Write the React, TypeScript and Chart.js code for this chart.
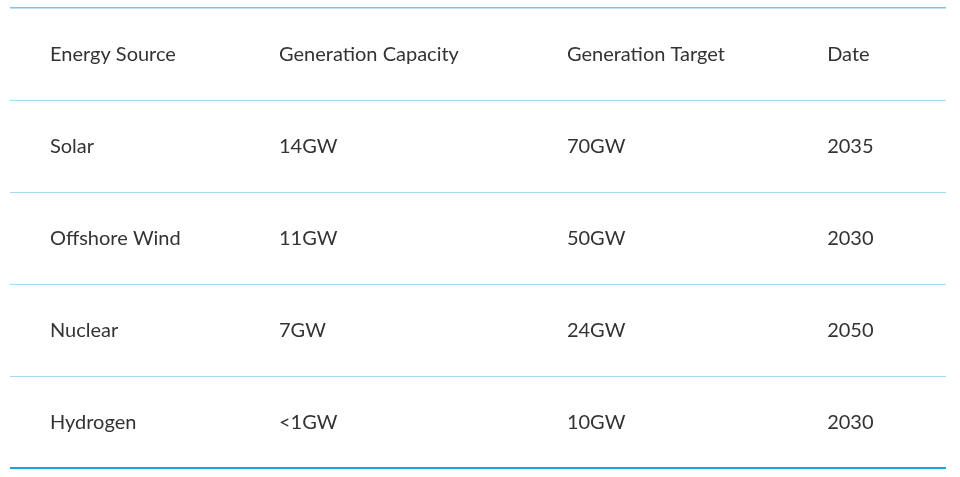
import React, { useEffect, useRef } from "react";
import { Chart, registerables } from "chart.js";

Chart.register(...registerables);

const headers = ["Energy Source", "Generation Capacity", "Generation Target", "Date"];
const sources = ["Solar", "Offshore Wind", "Nuclear", "Hydrogen"];
const capacities = ["14GW", "11GW", "7GW", "<1GW"];
const targets = ["70GW", "50GW", "24GW", "10GW"];
const dates = ["2035", "2030", "2050", "2030"];

// layout (percent of table width where each column's text starts)
const COL_START = [4.27, 28.74, 59.5, 87.3];

export default function App() {
  const ref = useRef<HTMLCanvasElement | null>(null);

  useEffect(() => {
    if (!ref.current) return;
    const rows = [headers, ...sources.map((s, i) => [s, capacities[i], targets[i], dates[i]])];
    const nRows = rows.length;

    const textPlugin = {
      id: "tableText",
      afterDraw(chart: any) {
        const { ctx, scales } = chart;
        const xs = scales.x;
        const ys = scales.y;
        ctx.save();
        ctx.font = "20px Lato";
        ctx.fillStyle = "#333333";
        ctx.textAlign = "left";
        ctx.textBaseline = "alphabetic";
        rows.forEach((row, r) => {
          const yc = ys.getPixelForValue(r + 0.5);
          row.forEach((cell, c) => {
            ctx.fillText(cell, xs.getPixelForValue(COL_START[c]), yc + 7.2);
          });
        });
        ctx.restore();
      },
    };

    const chart = new Chart(ref.current, {
      type: "scatter",
      data: { datasets: [] },
      options: {
        animation: false,
        responsive: false,
        devicePixelRatio: 1,
        layout: { padding: { left: 10, right: 14, top: 8, bottom: 9 } },
        plugins: { legend: { display: false }, tooltip: { enabled: false } },
        scales: {
          x: {
            type: "linear",
            min: 0,
            max: 100,
            display: true,
            grid: { display: false, drawTicks: false },
            border: { display: false },
            ticks: { display: false },
          },
          y: {
            type: "linear",
            min: 0,
            max: nRows,
            reverse: true,
            display: true,
            ticks: { display: false, stepSize: 1 },
            border: { display: false },
            grid: {
              drawTicks: false,
              color: (c: any) =>
                c.tick && c.tick.value === 0
                  ? "#74c6ea"
                  : c.tick && c.tick.value === nRows
                  ? "#1aa3e2"
                  : "#a6dcf2",
              lineWidth: (c: any) =>
                c.tick && c.tick.value === nRows ? 2 : c.tick && c.tick.value === 0 ? 1.5 : 1,
            },
          },
        },
      },
      plugins: [textPlugin],
    });

    let alive = true;
    if ((document as any).fonts && (document as any).fonts.load) {
      (document as any).fonts.load("20px Lato").then(() => {
        if (alive) chart.update();
      });
    }

    return () => {
      alive = false;
      chart.destroy();
    };
  }, []);

  return (
    <div style={{ position: "absolute", left: 0, top: 0, width: 960, height: 477, background: "#ffffff" }}>
      <canvas ref={ref} width={960} height={477} style={{ display: "block" }} />
    </div>
  );
}
